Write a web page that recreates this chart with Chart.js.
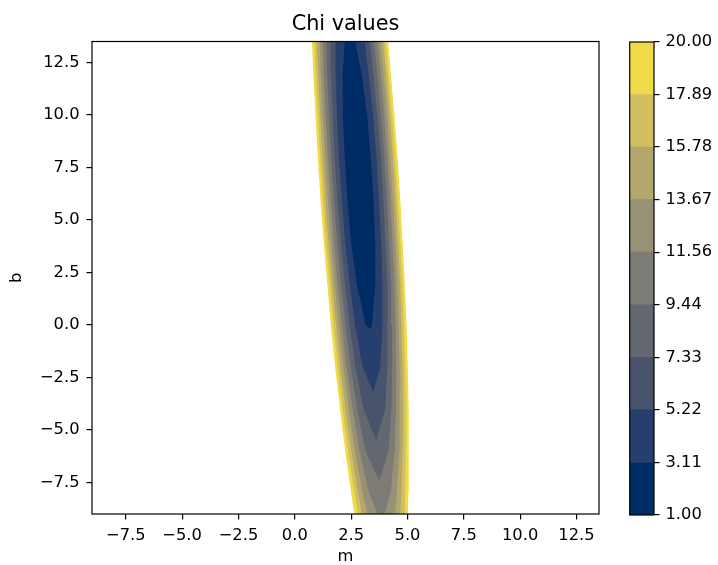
<!DOCTYPE html>
<html>
<head>
<meta charset="utf-8">
<title>Chi values</title>
<script src="https://cdn.jsdelivr.net/npm/chart.js@4.4.1/dist/chart.umd.min.js"></script>
<style>
  html, body { margin: 0; padding: 0; background: #fff; }
  #wrap { position: relative; width: 718px; height: 565px; }
  #wrap canvas { position: absolute; top: 0; }
</style>
</head>
<body>
<div id="wrap">
  <canvas id="chiChart" width="718" height="565" style="left:0"></canvas>
  <canvas id="barChart" width="118" height="565" style="left:600px"></canvas>
</div>
<script>
// Contour levels (also the colorbar ticks) and the band colours between them
const levels = [1.00, 3.11, 5.22, 7.33, 9.44, 11.56, 13.67, 15.78, 17.89, 20.00];
const bandColors = ['#002c66', '#273f6e', '#49536c', '#636770', '#7d7b75',
                    '#979176', '#b4a76e', '#d2bf5f', '#efda47'];

const xTicks = [-7.5, -5, -2.5, 0, 2.5, 5, 7.5, 10, 12.5];
const yTicks = [-7.5, -5, -2.5, 0, 2.5, 5, 7.5, 10, 12.5];

// Rows of b where the contour edges were read, and the middle of the valley (m) on each row
const bRows   = [13.5, 12, 10, 8, 6, 4, 2, 0, -2, -4, -6, -8, -9];
const valleyM = [2.45, 2.54, 2.67, 2.79, 2.91, 3.03, 3.16, 3.28, 3.40, 3.53, 3.65, 3.77, 3.83];

// Half width (in m) of each contour line on each row, null where the contour has closed
const hw311  = [0.23, 0.42, 0.54, 0.58, 0.58, 0.54, 0.42, 0.14, null, null, null, null, null];
const hw522  = [0.64, 0.73, 0.80, 0.83, 0.83, 0.80, 0.73, 0.61, 0.39, null, null, null, null];
const hw733  = [0.87, 0.94, 0.99, 1.02, 1.02, 0.99, 0.94, 0.85, 0.71, 0.48, null, null, null];
const hw944  = [1.05, 1.11, 1.15, 1.18, 1.18, 1.15, 1.11, 1.03, 0.92, 0.76, 0.51, null, null];
const hw1156 = [1.21, 1.26, 1.30, 1.32, 1.32, 1.30, 1.26, 1.19, 1.10, 0.96, 0.78, 0.48, 0.15];
const hw1367 = [1.34, 1.39, 1.43, 1.44, 1.44, 1.43, 1.39, 1.33, 1.24, 1.13, 0.98, 0.76, 0.61];
const hw1578 = [1.47, 1.51, 1.54, 1.56, 1.56, 1.54, 1.51, 1.45, 1.38, 1.28, 1.14, 0.96, 0.85];
const hw1789 = [1.57, 1.61, 1.64, 1.66, 1.66, 1.64, 1.61, 1.56, 1.49, 1.40, 1.28, 1.12, 1.02];
const hw2000 = [1.69, 1.72, 1.75, 1.77, 1.77, 1.75, 1.72, 1.68, 1.61, 1.52, 1.41, 1.27, 1.19];

// Lower tips (m, b) of the contours that close inside the plot
const tipM = [3.36, 3.48, 3.61, 3.74, null, null, null, null, null];
const tipB = [-0.2, -3.2, -5.5, -7.4, null, null, null, null, null];

const contours = [hw311, hw522, hw733, hw944, hw1156, hw1367, hw1578, hw1789, hw2000];

Chart.defaults.font.family = '"DejaVu Sans", sans-serif';
Chart.defaults.font.size = 16.3;
Chart.defaults.color = '#000';

// Outline of a contour: left edge top to bottom, the tip, then right edge back up
function contourShape(hw, k) {
    const pts = [];
    for (let i = 0; i < bRows.length; i++) {
        if (hw[i] !== null) pts.push({ x: valleyM[i] - hw[i], y: bRows[i] });
    }
    if (tipB[k] !== null) pts.push({ x: tipM[k], y: tipB[k] });
    for (let i = bRows.length - 1; i >= 0; i--) {
        if (hw[i] !== null) pts.push({ x: valleyM[i] + hw[i], y: bRows[i] });
    }
    return pts;
}

const minus = (s) => s.replace('-', '\u2212');

function fixedTicks(values) {
    return (scale) => { scale.ticks = values.map(v => ({ value: v })); };
}

// Box around the plot area, like matplotlib spines
const frame = {
    id: 'frame',
    afterDraw(chart) {
        const { ctx, chartArea: a } = chart;
        ctx.save();
        ctx.strokeStyle = '#000';
        ctx.lineWidth = 1.2;
        ctx.strokeRect(a.left, a.top, a.right - a.left, a.bottom - a.top);
        ctx.restore();
    }
};

const plotTitle = {
    id: 'plotTitle',
    afterDraw(chart) {
        const { ctx, chartArea: a } = chart;
        ctx.save();
        ctx.font = '20.8px "DejaVu Sans", sans-serif';
        ctx.fillStyle = '#000';
        ctx.textAlign = 'center';
        ctx.textBaseline = 'alphabetic';
        ctx.fillText('Chi values', (a.left + a.right) / 2, 30);
        ctx.restore();
    }
};

const tickGrid = { drawOnChartArea: false, drawTicks: true, tickLength: 5.5, color: '#000', lineWidth: 1.2 };

// Filled contours: the innermost is first so it is painted last, on top
new Chart(document.getElementById('chiChart'), {
    type: 'scatter',
    data: {
        datasets: contours.map((hw, k) => ({
            label: 'chi < ' + levels[k + 1].toFixed(2),
            data: contourShape(hw, k),
            showLine: true,
            fill: 'shape',
            backgroundColor: bandColors[k],
            borderWidth: 0,
            pointRadius: 0,
            pointHoverRadius: 0
        }))
    },
    options: {
        responsive: false,
        animation: false,
        events: [],
        layout: { padding: { left: 0, right: 119, top: 41.5, bottom: 0 } },
        plugins: { legend: { display: false }, tooltip: { enabled: false } },
        scales: {
            x: {
                type: 'linear',
                min: -9,
                max: 13.5,
                afterBuildTicks: fixedTicks(xTicks),
                afterFit: (s) => { s.height = 51; },
                border: { display: false },
                grid: tickGrid,
                ticks: { autoSkip: false, maxRotation: 0, padding: 6, callback: (v) => minus(v.toFixed(1)) },
                title: { display: true, text: 'm', font: { lineHeight: 1 }, padding: { top: 0, bottom: 0.4 } }
            },
            y: {
                type: 'linear',
                min: -9,
                max: 13.5,
                afterBuildTicks: fixedTicks(yTicks),
                afterFit: (s) => { s.width = 92; },
                border: { display: false },
                grid: tickGrid,
                ticks: { autoSkip: false, padding: 7, callback: (v) => minus(v.toFixed(1)) },
                title: { display: true, text: 'b', padding: { top: 7.4, bottom: 0 } }
            }
        }
    },
    plugins: [frame, plotTitle]
});

// Colorbar: one floating bar per band, stacked in place on the same category
new Chart(document.getElementById('barChart'), {
    type: 'bar',
    data: {
        labels: [''],
        datasets: bandColors.map((c, k) => ({
            data: [[levels[k], levels[k + 1]]],
            backgroundColor: c,
            borderWidth: 0,
            grouped: false,
            barPercentage: 1,
            categoryPercentage: 1
        }))
    },
    options: {
        responsive: false,
        animation: false,
        events: [],
        layout: { padding: { left: 29.7, right: 0, top: 42, bottom: 50 } },
        plugins: { legend: { display: false }, tooltip: { enabled: false } },
        scales: {
            x: { display: false },
            y: {
                position: 'right',
                min: 1,
                max: 20,
                afterBuildTicks: fixedTicks(levels),
                afterFit: (s) => { s.width = 64; },
                border: { display: false },
                grid: tickGrid,
                ticks: { autoSkip: false, padding: 6, callback: (v) => v.toFixed(2) }
            }
        }
    },
    plugins: [frame]
});
</script>
</body>
</html>
